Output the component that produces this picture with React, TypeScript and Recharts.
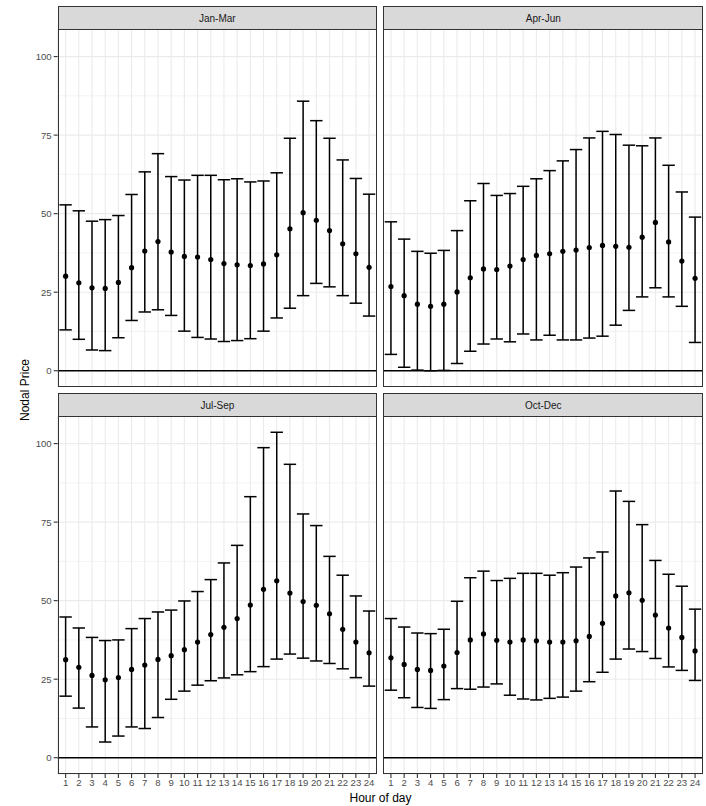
import React from 'react';
import {
  ComposedChart,
  Scatter,
  ErrorBar,
  XAxis,
  YAxis,
  CartesianGrid,
  ReferenceLine,
} from 'recharts';

const FONT = '"Liberation Sans", Arial, sans-serif';

const hours = [1, 2, 3, 4, 5, 6, 7, 8, 9, 10, 11, 12, 13, 14, 15, 16, 17, 18, 19, 20, 21, 22, 23, 24];
const yTicks = [0, 25, 50, 75, 100];
const yMinor = [12.5, 37.5, 62.5, 87.5];

// Jan-Mar
const janMarMean = [30.1, 28.0, 26.4, 26.2, 28.1, 32.8, 38.1, 41.1, 37.8, 36.4, 36.2, 35.4, 34.1, 33.7, 33.5, 34.0, 36.9, 45.2, 50.3, 47.9, 44.6, 40.4, 37.2, 32.9];
const janMarLow = [13.0, 10.0, 6.6, 6.4, 10.5, 16.0, 18.7, 19.4, 17.6, 12.6, 10.6, 10.1, 9.3, 9.6, 10.2, 12.6, 16.8, 19.9, 23.9, 27.8, 26.7, 23.9, 21.5, 17.4];
const janMarHigh = [52.8, 50.9, 47.6, 48.1, 49.4, 56.1, 63.3, 69.1, 61.8, 60.7, 62.2, 62.2, 60.8, 61.1, 60.1, 60.4, 63.0, 74.0, 85.8, 79.6, 74.0, 67.1, 61.2, 56.2];

// Apr-Jun
const aprJunMean = [26.8, 23.9, 21.2, 20.5, 21.2, 25.1, 29.6, 32.4, 32.2, 33.3, 35.4, 36.7, 37.2, 38.0, 38.4, 39.2, 39.9, 39.6, 39.3, 42.5, 47.2, 41.0, 34.9, 29.4];
const aprJunLow = [5.2, 1.1, 0.2, 0.0, 0.1, 2.3, 6.2, 8.5, 10.1, 9.2, 11.7, 9.8, 11.3, 9.8, 9.8, 10.4, 11.0, 14.5, 19.2, 23.5, 26.4, 23.5, 20.5, 9.0];
const aprJunHigh = [47.4, 41.9, 38.0, 37.4, 38.3, 44.6, 54.1, 59.6, 55.8, 56.4, 58.7, 61.1, 63.7, 66.8, 70.4, 74.1, 76.2, 75.2, 71.8, 71.6, 74.1, 65.4, 56.9, 48.9];

// Jul-Sep
const julSepMean = [31.2, 28.8, 26.2, 24.8, 25.5, 28.1, 29.5, 31.3, 32.5, 34.4, 36.8, 39.2, 41.5, 44.3, 48.6, 53.6, 56.3, 52.4, 49.7, 48.5, 45.8, 40.9, 36.8, 33.4];
const julSepLow = [19.6, 15.8, 9.8, 5.0, 6.9, 9.8, 9.3, 12.8, 18.6, 21.2, 23.1, 24.5, 25.4, 26.4, 27.4, 29.0, 31.4, 33.0, 31.7, 30.8, 30.0, 28.3, 25.5, 22.8];
const julSepHigh = [44.8, 41.3, 38.3, 37.3, 37.5, 41.1, 44.3, 46.4, 47.0, 49.9, 52.9, 56.7, 62.0, 67.6, 83.1, 98.7, 103.6, 93.4, 77.6, 73.9, 64.1, 58.1, 51.5, 46.7];

// Oct-Dec
const octDecMean = [31.8, 29.7, 28.1, 27.8, 29.2, 33.5, 37.5, 39.4, 37.4, 36.8, 37.5, 37.2, 36.8, 36.8, 37.2, 38.6, 42.8, 51.5, 52.5, 50.1, 45.4, 41.3, 38.3, 34.0];
const octDecLow = [21.5, 19.1, 16.0, 15.7, 18.5, 22.0, 21.8, 22.5, 23.5, 19.9, 18.7, 18.4, 18.9, 19.3, 21.2, 24.2, 27.2, 31.4, 34.6, 33.8, 31.6, 28.9, 27.8, 24.6];
const octDecHigh = [44.3, 41.6, 39.7, 39.5, 40.9, 49.8, 57.3, 59.4, 56.4, 57.1, 58.7, 58.7, 58.1, 58.9, 60.7, 63.6, 65.5, 84.9, 81.6, 74.2, 62.8, 58.4, 54.6, 47.3];

const Y_DOMAIN = [-5.18, 108.78];
const PLOT_H = 358;
const STRIP_H = 23.3;
const Y_AXIS_W = 57.7;

interface PanelProps {
  title: string;
  mean: number[];
  low: number[];
  high: number[];
  left: number;
  top: number;
  plotW: number;
  showY: boolean;
  showX: boolean;
}

const Dot = (props: any) => {
  const { cx, cy } = props;
  if (cx == null || cy == null) return null;
  return <circle cx={cx} cy={cy} r={2.6} fill="#000" />;
};

const Panel = ({ title, mean, low, high, left, top, plotW, showY, showX }: PanelProps) => {
  const data = hours.map((h, i) => ({
    hour: h,
    mean: mean[i],
    err: [mean[i] - low[i], high[i] - mean[i]],
  }));
  const yW = showY ? Y_AXIS_W : 0;
  const xH = showX ? 30 : 0;

  return (
    <>
      <div
        style={{
          position: 'absolute',
          left: left + yW,
          top: top - STRIP_H,
          width: plotW,
          height: STRIP_H + 1,
          boxSizing: 'border-box',
          background: '#D9D9D9',
          border: '1.2px solid #333333',
          display: 'flex',
          alignItems: 'center',
          justifyContent: 'center',
          fontFamily: FONT,
          fontSize: 10,
          color: '#1A1A1A',
        }}
      >
        {title}
      </div>
      <div style={{ position: 'absolute', left, top }}>
        <ComposedChart
          width={yW + plotW}
          height={PLOT_H + xH}
          data={data}
          margin={{ top: 0, right: 0, bottom: 0, left: 0 }}
        >
          <CartesianGrid stroke="#EBEBEB" strokeWidth={0.6} vertical={false} horizontalValues={yMinor} />
          <CartesianGrid stroke="#EBEBEB" strokeWidth={1.1} />
          <XAxis
            dataKey="hour"
            type="number"
            domain={[0.4, 24.6]}
            ticks={hours}
            interval={0}
            allowDataOverflow
            hide={!showX}
            height={xH}
            axisLine={false}
            tickSize={4}
            tickMargin={1}
            tickLine={{ stroke: '#333333', strokeWidth: 1.1 }}
            tick={{ fill: '#4D4D4D', fontSize: 9.6, fontFamily: FONT }}
          />
          <YAxis
            type="number"
            domain={Y_DOMAIN}
            ticks={yTicks}
            allowDataOverflow
            hide={!showY}
            width={yW}
            axisLine={false}
            tickSize={4}
            tickMargin={2}
            tickLine={{ stroke: '#333333', strokeWidth: 1.1 }}
            tick={{ fill: '#4D4D4D', fontSize: 9.6, fontFamily: FONT }}
          />
          <ReferenceLine y={0} stroke="#000" strokeWidth={1.5} />
          <Scatter dataKey="mean" isAnimationActive={false} shape={<Dot />}>
            <ErrorBar dataKey="err" direction="y" width={6.2} stroke="#000" strokeWidth={1.5} />
          </Scatter>
        </ComposedChart>
      </div>
      <div
        style={{
          position: 'absolute',
          left: left + yW,
          top,
          width: plotW,
          height: PLOT_H,
          boxSizing: 'border-box',
          border: '1.2px solid #333333',
          pointerEvents: 'none',
        }}
      />
    </>
  );
};

export default function App() {
  return (
    <div
      style={{
        position: 'absolute',
        left: 0,
        top: 0,
        width: 706,
        height: 806,
        background: '#fff',
        fontFamily: FONT,
      }}
    >
      <Panel title="Jan-Mar" mean={janMarMean} low={janMarLow} high={janMarHigh} left={0} top={29.3} plotW={319.3} showY showX={false} />
      <Panel title="Apr-Jun" mean={aprJunMean} low={aprJunLow} high={aprJunHigh} left={383.3} top={29.3} plotW={320} showY={false} showX={false} />
      <Panel title="Jul-Sep" mean={julSepMean} low={julSepLow} high={julSepHigh} left={0} top={416.3} plotW={319.3} showY showX />
      <Panel title="Oct-Dec" mean={octDecMean} low={octDecLow} high={octDecHigh} left={383.3} top={416.3} plotW={320} showY={false} showX />
      <div
        style={{
          position: 'absolute',
          left: 280,
          width: 201,
          top: 791,
          textAlign: 'center',
          fontSize: 12,
          color: '#000',
        }}
      >
        Hour of day
      </div>
      <div
        style={{
          position: 'absolute',
          left: 25,
          top: 390,
          transform: 'translate(-50%, -50%) rotate(-90deg)',
          whiteSpace: 'nowrap',
          fontSize: 12,
          color: '#000',
        }}
      >
        Nodal Price
      </div>
    </div>
  );
}
